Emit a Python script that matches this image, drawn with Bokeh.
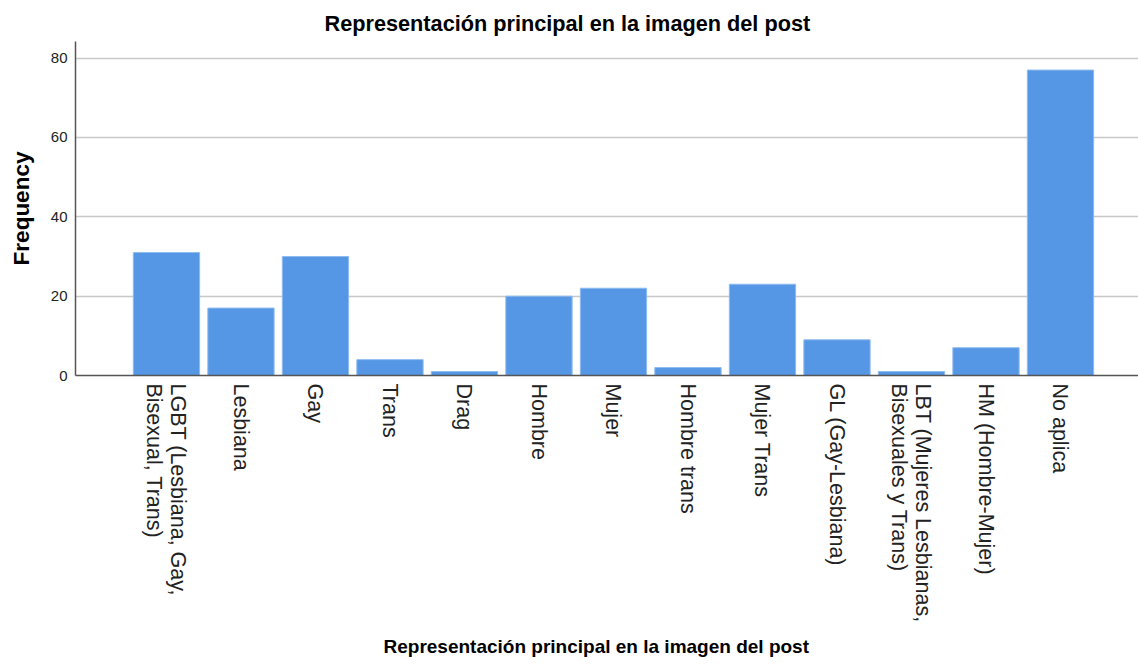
import math
from bokeh.plotting import figure
from bokeh.models import ColumnDataSource, Range1d, FixedTicker, Title
from bokeh.embed import file_html
from bokeh.resources import INLINE

categories = [
    "LGBT (Lesbiana, Gay,\nBisexual, Trans)",
    "Lesbiana",
    "Gay",
    "Trans",
    "Drag",
    "Hombre",
    "Mujer",
    "Hombre trans",
    "Mujer Trans",
    "GL (Gay-Lesbiana)",
    "LBT (Mujeres Lesbianas,\nBisexuales y Trans)",
    "HM (Hombre-Mujer)",
    "No aplica",
]
frequency = [31, 17, 30, 4, 1, 20, 22, 2, 23, 9, 1, 7, 77]
y_ticks = [0, 20, 40, 60, 80]

title_text = "Representación principal en la imagen del post"
x_title = "Representación principal en la imagen del post"
y_title = "Frequency"

positions = list(range(len(categories)))
source = ColumnDataSource(data=dict(x=positions, top=frequency, label=categories))

FONT = "Liberation Sans"

p = figure(
    width=1138, height=665,
    x_range=Range1d(-1.221, 13.047),
    y_range=Range1d(0, 84.2),
    output_backend="svg", toolbar_location=None,
    min_border_left=75, min_border_top=41, min_border_right=0, min_border_bottom=0,
)
p.title = Title(text=title_text, align="left", offset=249,
                text_font=FONT, text_font_size="21.7px", text_font_style="bold",
                text_color="#000000", standoff=12)

p.vbar(x="x", top="top", width=0.89, source=source,
       fill_color="#5596E5", line_color="#8FBBEF", line_width=1)

p.outline_line_color = None
p.background_fill_color = "white"
p.border_fill_color = "white"

# grid
p.xgrid.grid_line_color = None
p.ygrid.ticker = FixedTicker(ticks=y_ticks)
p.ygrid.grid_line_color = "#c8c8c8"
p.ygrid.grid_line_width = 1.5

# y axis
ya = p.yaxis[0]
ya.ticker = FixedTicker(ticks=y_ticks)
ya.axis_label = y_title
ya.axis_label_text_font = FONT
ya.axis_label_text_font_size = "22.5px"
ya.axis_label_text_font_style = "bold"
ya.axis_label_text_color = "#000000"
ya.axis_label_standoff = 14
ya.major_label_text_font = FONT
ya.major_label_text_font_size = "15px"
ya.major_label_text_color = "#222222"
ya.major_label_standoff = 8
ya.major_tick_out = 0
ya.major_tick_in = 0
ya.minor_tick_out = 0
ya.minor_tick_in = 0
ya.axis_line_color = "#555555"
ya.axis_line_width = 1.5

# x axis
xa = p.xaxis[0]
xa.ticker = FixedTicker(ticks=positions)
xa.major_label_overrides = {i: c for i, c in zip(positions, categories)}
xa.major_label_orientation = -math.pi / 2
xa.major_label_text_font = FONT
xa.major_label_text_font_size = "21.5px"
xa.major_label_text_line_height = 1.0
xa.major_label_text_color = "#222222"
xa.major_label_standoff = 8
xa.major_tick_out = 0
xa.major_tick_in = 0
xa.minor_tick_out = 0
xa.minor_tick_in = 0
xa.axis_line_color = "#555555"
xa.axis_line_width = 1.5

# x axis title as a below-title so it can be offset like the reference
p.add_layout(Title(text=x_title, align="left", offset=308,
                   text_font=FONT, text_font_size="19px", text_font_style="bold",
                   text_color="#000000", standoff=17), "below")

open("out.html", "w").write(file_html(p, INLINE))
